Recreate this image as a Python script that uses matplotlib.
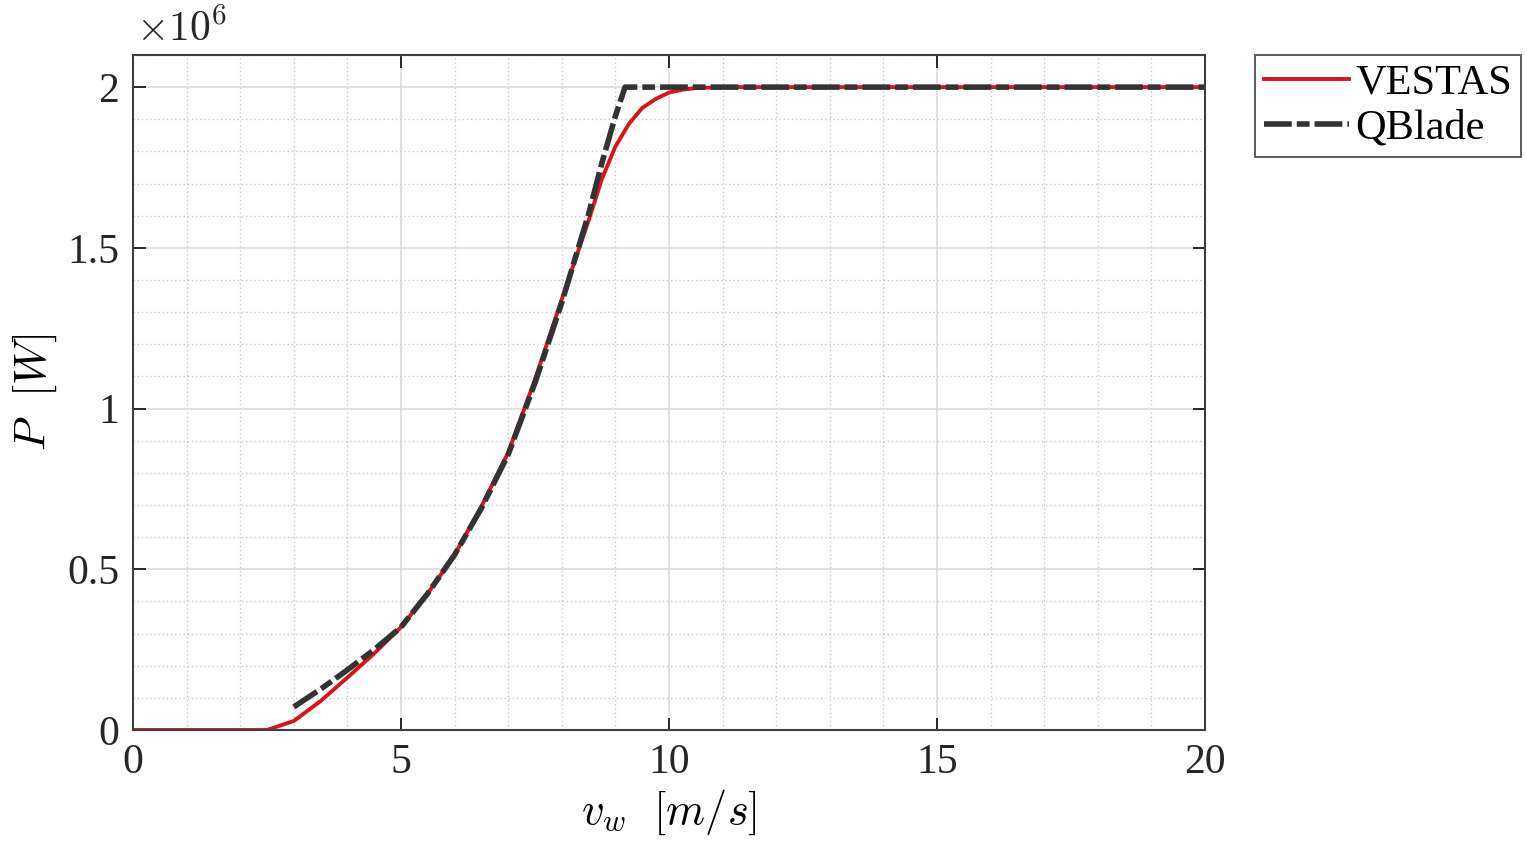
import numpy as np
import matplotlib
matplotlib.use('Agg')
import matplotlib.pyplot as plt
from matplotlib.ticker import MultipleLocator, FuncFormatter

plt.rcParams['font.family'] = ['Liberation Serif', 'DejaVu Serif']
plt.rcParams['mathtext.fontset'] = 'cm'

# VESTAS power curve, P in MW
v_vestas = [0, 2.5, 3, 3.5, 4, 4.5, 5, 5.5, 6, 6.5, 7, 7.5, 8, 8.5, 8.75, 9.0,
            9.25, 9.5, 9.75, 10.0, 10.25, 10.5, 11, 20]
p_vestas = [0, 0, 0.028, 0.09, 0.163, 0.238, 0.32, 0.425, 0.545, 0.695, 0.863,
            1.09, 1.34, 1.585, 1.715, 1.815, 1.885, 1.935, 1.963, 1.983, 1.992,
            1.997, 2.0, 2.0]

# QBlade simulation
v_qblade = [3, 3.5, 4, 4.5, 5, 5.5, 6, 6.5, 7, 7.5, 8, 8.5, 8.75, 9.0, 9.18, 20]
p_qblade = [0.072, 0.127, 0.187, 0.25, 0.32, 0.425, 0.545, 0.69, 0.857, 1.08,
            1.33, 1.605, 1.765, 1.91, 2.0, 2.0]

xticks = [0, 5, 10, 15, 20]
yticks = [0, 0.5e6, 1e6, 1.5e6, 2e6]

fig = plt.figure(figsize=(15.27, 8.51), dpi=100)
ax = fig.add_axes([0.0871, 0.1422, 0.702, 0.7932])

ax.plot(v_vestas, np.array(p_vestas) * 1e6, color='#d9141b', lw=2.8, label='VESTAS')
ax.plot(v_qblade, np.array(p_qblade) * 1e6, color='#333333', lw=4.0,
        dashes=[5.0, 0.9, 2.3, 0.9], label='QBlade')

ax.set_xlim(0, 20)
ax.set_ylim(0, 2.1e6)
ax.set_xticks(xticks)
ax.set_yticks(yticks)
ax.xaxis.set_minor_locator(MultipleLocator(1))
ax.yaxis.set_minor_locator(MultipleLocator(0.1e6))
ax.yaxis.set_major_formatter(FuncFormatter(lambda y, p: '%g' % (y / 1e6)))

ax.grid(True, which='major', color='#dcdcdc', lw=1.2)
ax.grid(True, which='minor', color='#c8c8c8', lw=1.0, ls=(0, (1, 2)))
ax.set_axisbelow(True)

ax.tick_params(which='major', direction='in', length=9, width=1.4, top=True,
               right=True, labelsize=30, colors='#262626', pad=10)
ax.tick_params(which='minor', length=0)
for s in ax.spines.values():
    s.set_color('#404040')
    s.set_linewidth(1.5)

ax.text(0.003, 1.008, r'$\times10^{6}$', transform=ax.transAxes, fontsize=30,
        color='#262626', ha='left', va='bottom')

ax.set_xlabel(r'$v_w\ \ [m/s]$', fontsize=32, labelpad=4)
ax.set_ylabel(r'$P\ \ [W]$', fontsize=32, labelpad=6)

leg = ax.legend(loc='upper left', bbox_to_anchor=(1.0466, 1.0), borderaxespad=0,
                fontsize=30.5, frameon=True, fancybox=False, handlelength=2.0,
                handletextpad=0.15, borderpad=0.22, labelspacing=0.15)
leg.get_frame().set_edgecolor('#333333')
leg.get_frame().set_linewidth(1.4)

fig.savefig('out.png', dpi=100)
